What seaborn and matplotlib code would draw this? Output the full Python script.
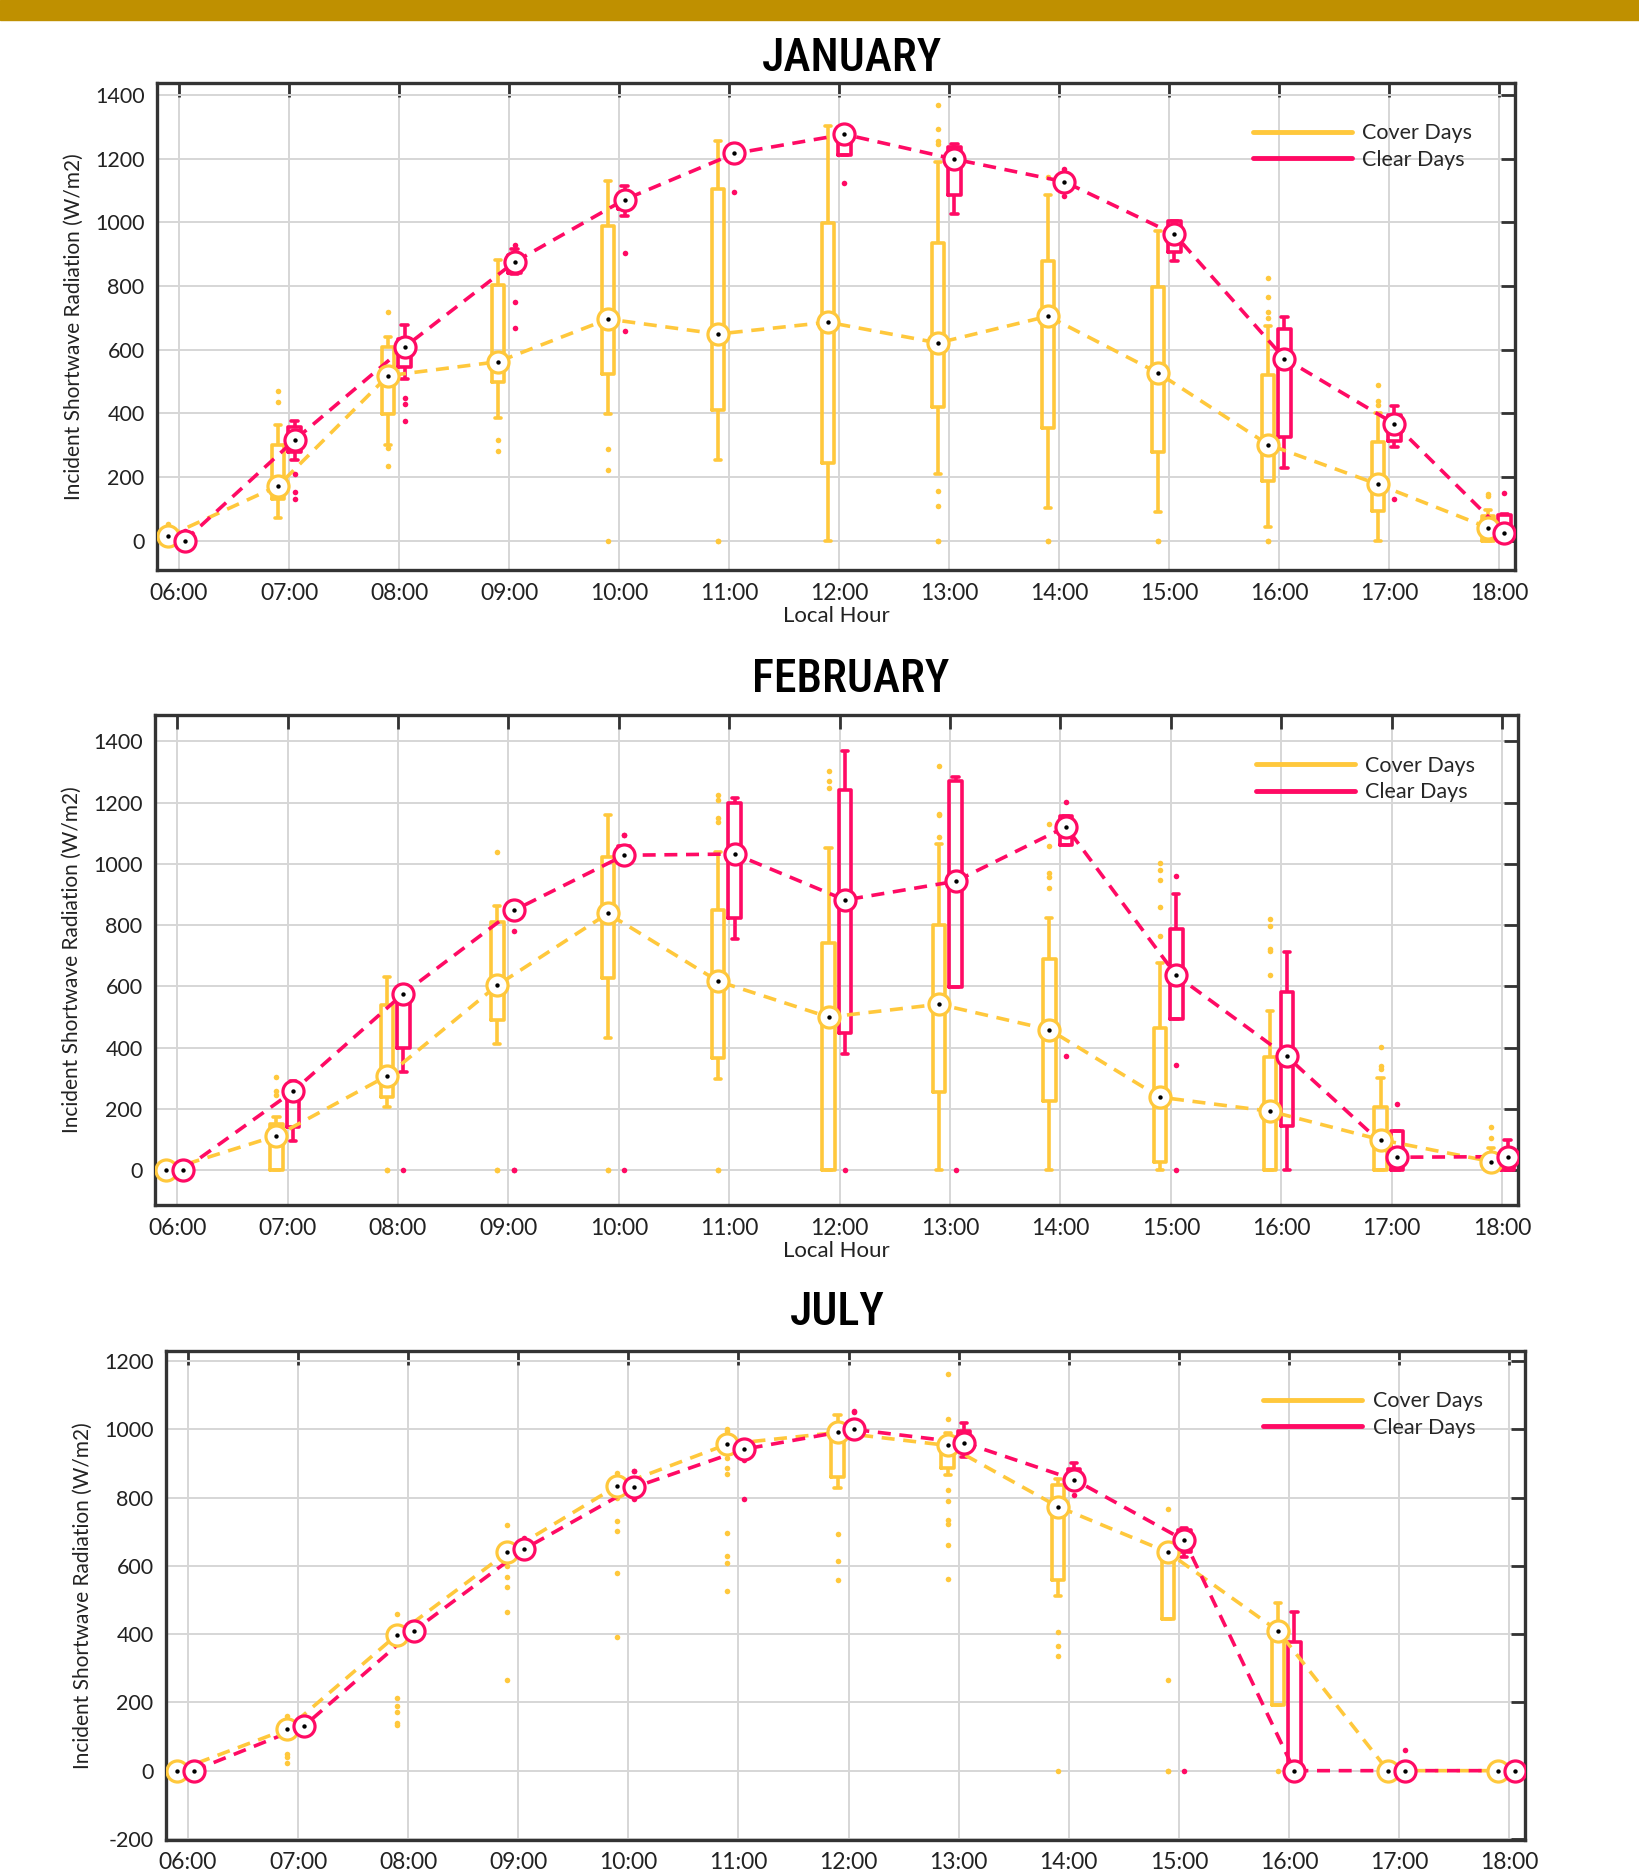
import numpy as np
import pandas as pd
import matplotlib
matplotlib.use('Agg')
import matplotlib.pyplot as plt
from matplotlib.lines import Line2D
from matplotlib.patches import Rectangle
import seaborn as sns

HOURS = ['06:00', '07:00', '08:00', '09:00', '10:00', '11:00', '12:00',
         '13:00', '14:00', '15:00', '16:00', '17:00', '18:00']

# box stats per hour: (lower whisker, q1, median, q3, upper whisker)
JAN_COVER_BOX = [(0, 5, 14, 25, 30), (72, 130, 172, 299, 364), (299, 397, 518, 608, 640),
                 (386, 498, 562, 804, 882), (397, 523, 696, 987, 1131), (254, 411, 649, 1105, 1256),
                 (0, 243, 686, 999, 1303), (208, 421, 621, 935, 1189), (103, 355, 705, 879, 1087),
                 (91, 277, 527, 798, 974), (43, 186, 302, 521, 674), (0, 93, 177, 310, 401),
                 (0, 0, 41, 78, 97)]
JAN_CLEAR_BOX = [(0, 0, 0, 12, 20), (252, 279, 316, 357, 376), (509, 544, 608, 633, 676),
                 (838, 842, 875, 897, 916), (1021, 1040, 1071, 1090, 1115), (1185, 1195, 1216, 1235, 1245),
                 (1210, 1210, 1276, 1298, 1298), (1025, 1087, 1198, 1236, 1245), (1108, 1115, 1127, 1140, 1150),
                 (879, 907, 962, 1003, 1005), (227, 326, 572, 664, 701), (295, 314, 367, 395, 422),
                 (0, 0, 25, 81, 84)]
JAN_COVER_OUT = [[53, 38], [469, 434], [717, 292, 236], [316, 283], [289, 221, 0], [0, 0], [],
                 [1367, 1294, 1255, 1245, 155, 109, 0, 0], [1142, 0, 0], [0, 0],
                 [825, 765, 717, 699, 0, 0], [488, 438, 426], [146, 140]]
JAN_CLEAR_OUT = [[29], [208, 153, 132], [447, 429, 376], [928, 751, 668], [902, 660], [1096],
                 [1124], [], [1168, 1081], [], [], [130], [150]]

FEB_COVER_BOX = [(0, 0, 0, 0, 0), (0, 0, 113, 153, 173), (206, 239, 308, 541, 632),
                 (412, 492, 604, 811, 862), (432, 628, 838, 1021, 1159), (299, 366, 617, 851, 1040),
                 (0, 0, 500, 741, 1053), (0, 255, 542, 802, 1064), (0, 226, 459, 689, 824),
                 (0, 27, 239, 465, 678), (0, 0, 193, 370, 519), (0, 0, 100, 206, 303),
                 (0, 0, 29, 47, 73)]
FEB_CLEAR_BOX = [(0, 0, 0, 0, 0), (96, 142, 258, 279, 293), (322, 399, 577, 598, 605),
                 (824, 824, 848, 871, 880), (1011, 1011, 1028, 1057, 1057), (754, 824, 1032, 1199, 1214),
                 (379, 448, 882, 1240, 1369), (598, 598, 943, 1270, 1283), (1060, 1060, 1121, 1157, 1157),
                 (495, 495, 636, 788, 900), (0, 146, 372, 582, 711), (0, 0, 43, 129, 129),
                 (0, 0, 45, 60, 100)]
FEB_COVER_OUT = [[], [306, 259, 246], [0, 0], [1037, 0, 0], [0, 0], [1226, 1207, 1150, 1137, 0, 0],
                 [1303, 1270, 1247], [1319, 1163, 1160, 1088], [1130, 1057, 970, 958, 921],
                 [1004, 980, 948, 858, 765], [820, 798, 722, 715, 638], [403, 339, 332], [140, 106]]
FEB_CLEAR_OUT = [[], [], [0], [782, 0, 0], [1093, 1093, 0], [], [0], [0], [1203, 372],
                 [960, 343, 0], [], [215], []]

JUL_COVER_BOX = [(0, 0, 0, 0, 0), (105, 112, 122, 135, 145), (392, 395, 399, 403, 406),
                 (630, 635, 640, 648, 655), (825, 830, 835, 840, 848), (945, 950, 957, 963, 970),
                 (827, 860, 991, 995, 1042), (866, 886, 953, 966, 989), (512, 560, 774, 838, 855),
                 (443, 443, 640, 640, 640), (193, 193, 410, 410, 491), (0, 0, 0, 0, 0),
                 (0, 0, 0, 0, 0)]
JUL_CLEAR_BOX = [(0, 0, 0, 0, 0), (118, 122, 130, 140, 146), (402, 405, 410, 415, 420),
                 (640, 644, 649, 660, 672), (815, 822, 830, 840, 850), (920, 930, 942, 950, 958),
                 (985, 992, 1000, 1010, 1020), (920, 944, 961, 996, 1019), (833, 840, 853, 883, 902),
                 (627, 640, 675, 705, 710), (0, 0, 0, 378, 465), (0, 0, 0, 0, 0),
                 (0, 0, 0, 0, 0)]
JUL_COVER_OUT = [[], [161, 148, 48, 39, 23], [460, 212, 190, 173, 139, 135],
                 [721, 599, 568, 538, 465, 265], [872, 799, 731, 702, 580, 393],
                 [1002, 994, 916, 888, 869, 697, 630, 610, 527], [694, 614, 558],
                 [1161, 1030, 822, 790, 736, 724, 660, 563], [406, 365, 335, 0],
                 [766, 265, 0, 0], [0], [], []]
JUL_CLEAR_OUT = [[], [], [], [682], [877, 877, 797], [911, 796], [1055, 1050], [], [807],
                 [0], [], [62], []]

COVER = '#FFC83C'
CLEAR = '#FF0A64'
FRAME = '#333333'
OFFSETS = {'Cover Days': -0.1, 'Clear Days': 0.05}

FONT = ['Lato', 'DejaVu Sans']
TITLE_FONT = ['Roboto Condensed', 'Roboto', 'DejaVu Sans']

sns.set_style('white')
plt.rcParams['font.family'] = FONT
plt.rcParams['axes.unicode_minus'] = False


def long_table(cover_box, clear_box):
    rows = []
    for i in range(len(HOURS)):
        for v in cover_box[i]:
            rows.append((i + OFFSETS['Cover Days'], 'Cover Days', v))
        for v in clear_box[i]:
            rows.append((i + OFFSETS['Clear Days'], 'Clear Days', v))
    return pd.DataFrame(rows, columns=['pos', 'series', 'value'])


def draw_panel(ax, cover_box, clear_box, cover_out, clear_out, ylim, yticks, xlabel):
    df = long_table(cover_box, clear_box)
    sns.boxplot(data=df, x='pos', y='value', hue='series',
                hue_order=['Cover Days', 'Clear Days'],
                palette={'Cover Days': COVER, 'Clear Days': CLEAR},
                native_scale=True, dodge=False, fill=False, whis=(0, 100),
                showfliers=False, width=0.75, linewidth=2.6,
                medianprops={'visible': False}, legend=False, ax=ax)

    for name, box, outs, color in (('Cover Days', cover_box, cover_out, COVER),
                                   ('Clear Days', clear_box, clear_out, CLEAR)):
        pos = np.arange(len(HOURS)) + OFFSETS[name]
        med = [b[2] for b in box]
        sns.lineplot(x=pos, y=med, color=color, linestyle=(0, (3.6, 2.4)),
                     linewidth=2.6, ax=ax, zorder=3)
        ox = [pos[i] for i, o in enumerate(outs) for _ in o]
        oy = [v for o in outs for v in o]
        sns.scatterplot(x=ox, y=oy, color=color, s=16, linewidth=0, ax=ax, zorder=3)
        sns.scatterplot(x=pos, y=med, color='white', edgecolor=color, s=230,
                        linewidth=2.3, ax=ax, zorder=4)
        sns.scatterplot(x=pos, y=med, color='black', s=10, linewidth=0, ax=ax, zorder=5)

    ax.set_xlim(-0.2, 12.145)
    ax.set_ylim(*ylim)
    ax.set_xticks(range(len(HOURS)))
    ax.set_xticklabels(HOURS)
    ax.set_yticks(yticks)
    ax.grid(True, color='#d6d6d6', linewidth=1.4)
    ax.set_axisbelow(True)
    ax.tick_params(direction='in', length=10, width=2, top=True, right=True,
                   color=FRAME, labelcolor='#222222', labelsize=15.5, pad=9)
    ax.tick_params(axis='x', labelsize=16.5)
    for s in ax.spines.values():
        s.set_linewidth(2.4)
        s.set_color(FRAME)
    ax.set_ylabel('Incident Shortwave Radiation (W/m2)', fontsize=15, color='#222222', labelpad=8)
    ax.set_xlabel(xlabel, fontsize=16, color='#222222', labelpad=2)

    handles = [Line2D([0], [0], color=COVER, lw=3.5), Line2D([0], [0], color=CLEAR, lw=3.5)]
    ax.legend(handles, ['Cover Days', 'Clear Days'], loc='upper right',
              bbox_to_anchor=(0.975, 0.935), frameon=False, fontsize=15.5,
              handlelength=4.6, handletextpad=0.5, labelspacing=0.3, borderaxespad=0)


fig = plt.figure(figsize=(16.39, 18.75), dpi=100)
fig.patches.append(Rectangle((0, 1 - 20 / 1875), 1, 20 / 1875, transform=fig.transFigure,
                             color='#BF9000', zorder=0))

ax1 = fig.add_axes([0.0958, 0.696, 0.8285, 0.2597])
draw_panel(ax1, JAN_COVER_BOX, JAN_CLEAR_BOX, JAN_COVER_OUT, JAN_CLEAR_OUT,
           (-92, 1437), range(0, 1401, 200), 'Local Hour')
fig.text(0.52, 0.969, 'JANUARY', ha='center', va='center', fontsize=33, color='black',
         family=TITLE_FONT, fontweight='medium')

ax2 = fig.add_axes([0.0946, 0.3573, 0.8316, 0.2613])
draw_panel(ax2, FEB_COVER_BOX, FEB_CLEAR_BOX, FEB_COVER_OUT, FEB_CLEAR_OUT,
           (-113, 1485), range(0, 1401, 200), 'Local Hour')
fig.text(0.519, 0.6374, 'FEBRUARY', ha='center', va='center', fontsize=33, color='black',
         family=TITLE_FONT, fontweight='medium')

ax3 = fig.add_axes([0.1013, 0.0187, 0.8292, 0.2608])
draw_panel(ax3, JUL_COVER_BOX, JUL_CLEAR_BOX, JUL_COVER_OUT, JUL_CLEAR_OUT,
           (-203, 1230), range(-200, 1201, 200), '')
fig.text(0.511, 0.2998, 'JULY', ha='center', va='center', fontsize=33, color='black',
         family=TITLE_FONT, fontweight='medium')

fig.savefig('out.png', dpi=100)
